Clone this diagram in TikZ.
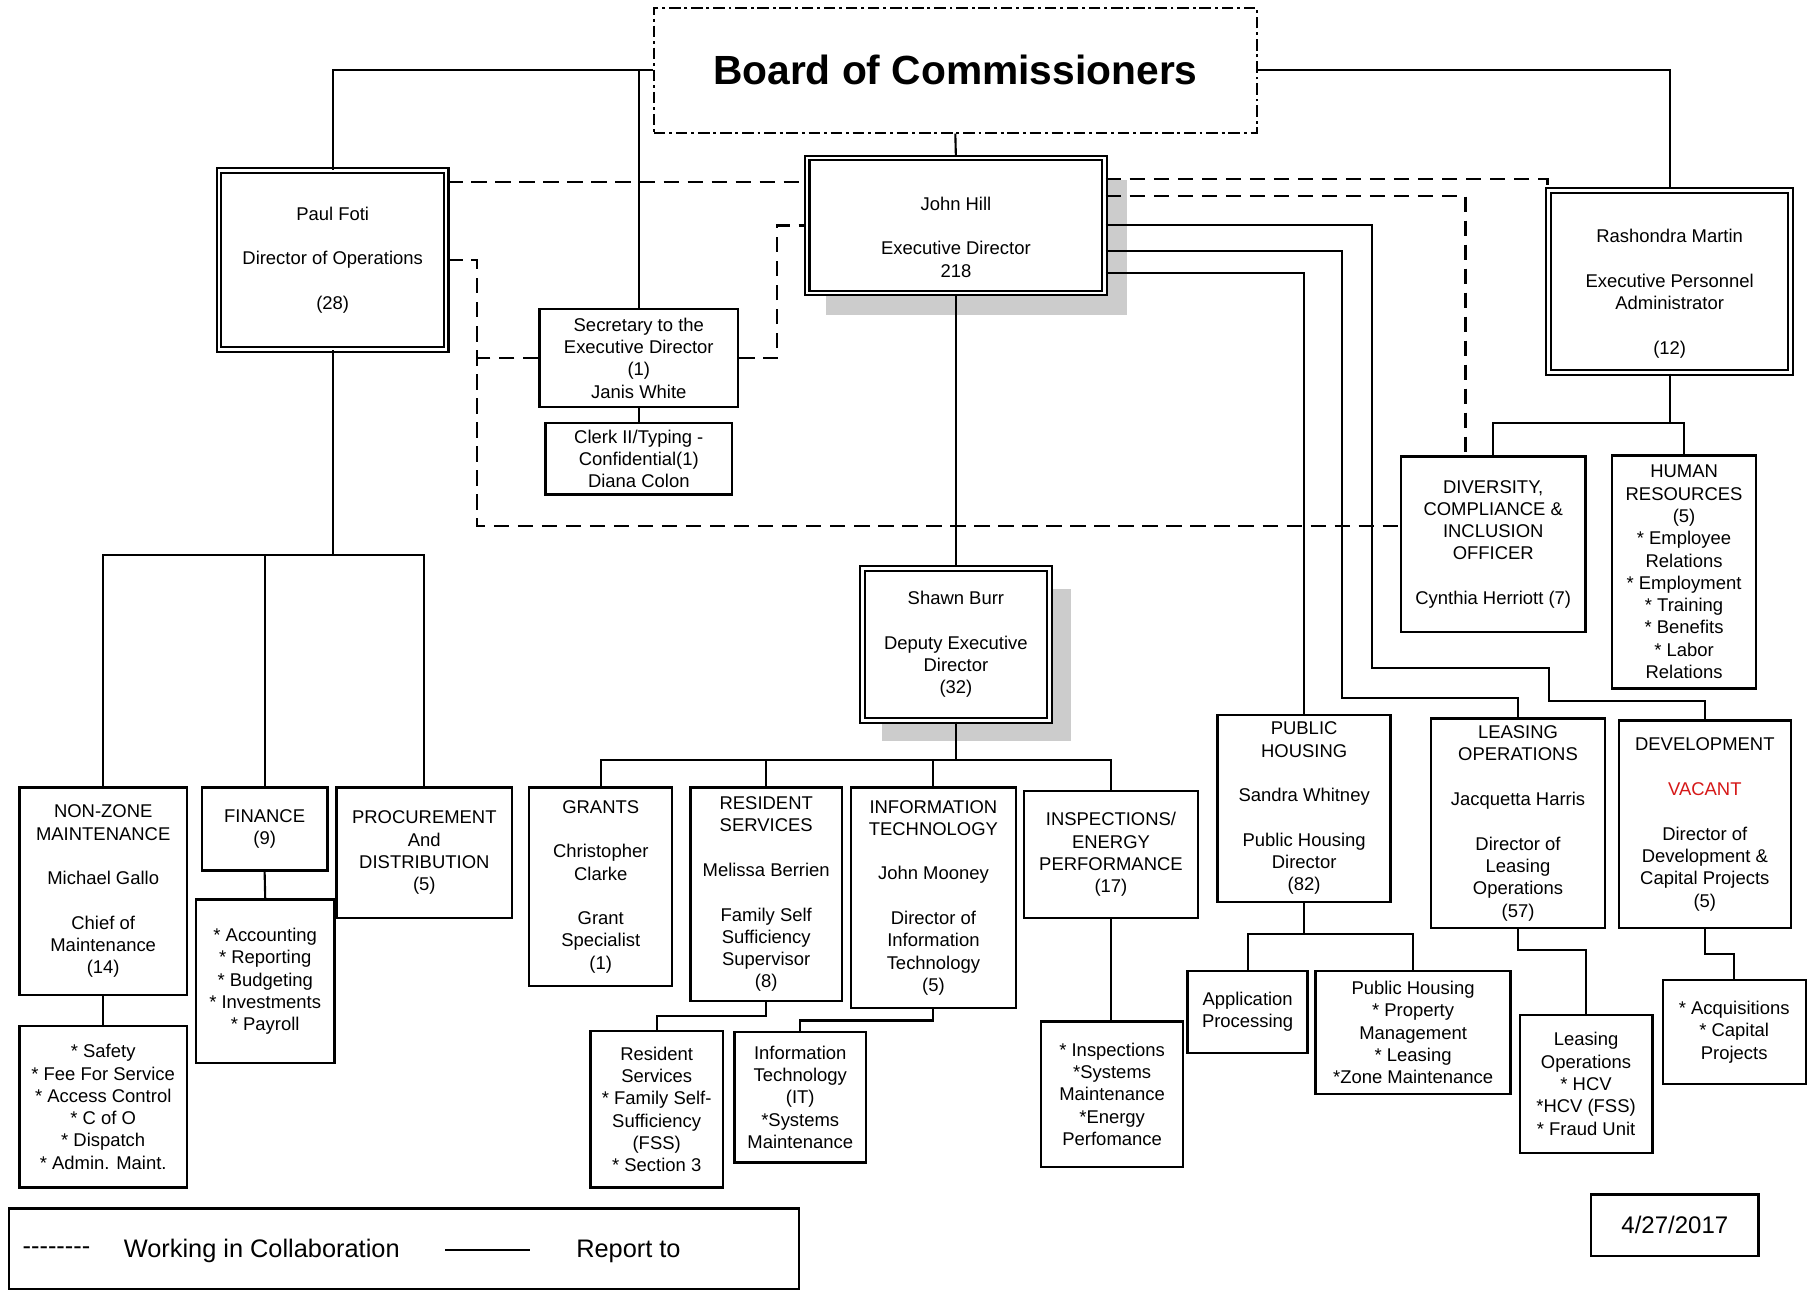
\documentclass[tikz,border=0pt]{standalone}
\usepackage{fontspec}
\setmainfont{Liberation Sans}
\definecolor{vacantred}{RGB}{214,24,24}
\newcommand{\legdash}{-\kern0pt}

\begin{document}
\begin{tikzpicture}[x=0.6pt, y=-0.6pt,
	unit/.style={draw, fill=white, line width=1.25pt, align=center, inner sep=1pt, font=\fontsize{9.6}{11.6}\selectfont},
	head/.style={unit, double, line width=1.1pt, double distance=1.3pt},
	bw/.style={minimum width=#1*0.6pt},
	bh/.style={minimum height=#1*0.6pt},
	report/.style={line width=1.1pt},
	collab/.style={line width=1.2pt, dash pattern=on 8pt off 4.5pt},
	boxshadow/.style={fill=gray!40},
	keytext/.style={font=\fontsize{13.2}{15}\selectfont}]
	\useasboundingbox (0,0) rectangle (1568,1120);
	% Board
	\node[draw, line width=1pt, dash pattern=on 6pt off 2pt on 1.5pt off 2pt, bw=523, bh=108, font=\fontsize{21.2}{24}\selectfont\bfseries] (board) at (828.5,61) {Board of Commissioners};
	% Top level
	\fill[boxshadow] (716,156) rectangle (977,273);
	\node[head, bw=258, bh=117] (jh) at (829,195.5) {\rule{0pt}{19pt}John Hill\\[11.6pt] Executive Director\\ 218};
	\node[head, bw=197, bh=155] (pf) at (288.5,225.5) {Paul Foti\\[11.6pt] Director of Operations\\[11.6pt] (28)};
	\node[head, bw=210, bh=158] (rm) at (1448,244) {\rule{0pt}{20pt}Rashondra Martin\\[11.6pt] Executive Personnel\\ Administrator\\[11.6pt] (12)};
	\node[unit, bw=172, bh=85] (sec) at (554,310.5) {Secretary to the\\ Executive Director\\ (1)\\ Janis White};
	\node[unit, bw=162, bh=62] (clerk) at (554,398) {Clerk II/Typing -\\ Confidential(1)\\ Diana Colon};
	% Personnel
	\node[unit, bw=160, bh=152] (div) at (1295,472) {DIVERSITY,\\ COMPLIANCE \&\\ INCLUSION\\ OFFICER\\[11.6pt] Cynthia Herriott (7)};
	\node[unit, bw=125, bh=202] (hr) at (1460.5,496) {HUMAN\\ RESOURCES\\ (5)\\ * Employee\\ Relations\\ * Employment\\ * Training\\ * Benefits\\ * Labor\\ Relations};
	% Operations
	\node[unit, bw=145, bh=180] (nz) at (89.5,773) {NON-ZONE\\ MAINTENANCE\\[11.6pt] Michael Gallo\\[11.6pt] Chief of\\ Maintenance\\ (14)};
	\node[unit, bw=145, bh=140] (nzsub) at (89.5,960) {* Safety\\ * Fee For Service\\ * Access Control\\ * C of O\\ * Dispatch\\ * Admin. Maint.};
	\node[unit, bw=109, bh=72] (fin) at (229.5,719) {FINANCE\\ (9)};
	\node[unit, bw=120, bh=142] (finsub) at (230,851) {* Accounting\\ * Reporting\\ * Budgeting\\ * Investments\\ * Payroll};
	\node[unit, bw=152, bh=113] (proc) at (368,739.5) {PROCUREMENT\\ And\\ DISTRIBUTION\\ (5)};
	% Deputy
	\fill[boxshadow] (765,511) rectangle (929,643);
	\node[head, bw=162, bh=132] (sb) at (829,559) {Shawn Burr\\[11.6pt] Deputy Executive\\ Director\\ (32)};
	\node[unit, bw=124, bh=172] (grants) at (521,769) {GRANTS\\[11.6pt] Christopher\\ Clarke\\[11.6pt] Grant\\ Specialist\\ (1)};
	\node[unit, bw=131, bh=185] (res) at (664.5,775.5) {RESIDENT\\ SERVICES\\[11.6pt] Melissa Berrien\\[11.6pt] Family Self\\ Sufficiency\\ Supervisor\\ (8)};
	\node[unit, bw=143, bh=191] (it) at (809.5,778.5) {INFORMATION\\ TECHNOLOGY\\[11.6pt] John Mooney\\[11.6pt] Director of\\ Information\\ Technology\\ (5)};
	\node[unit, bw=151, bh=110] (insp) at (963.5,741) {INSPECTIONS/\\ ENERGY\\ PERFORMANCE\\ (17)};
	\node[unit, bw=115, bh=136] (ressub) at (569.5,962) {Resident\\ Services\\ * Family Self-\\ Sufficiency\\ (FSS)\\ * Section 3};
	\node[unit, bw=114, bh=113] (itsub) at (694,951.5) {Information\\ Technology\\ (IT)\\ *Systems\\ Maintenance};
	\node[unit, bw=123, bh=126] (inspsub) at (964.5,949) {* Inspections\\ *Systems\\ Maintenance\\ *Energy\\ Perfomance};
	% Housing
	\node[unit, bw=150, bh=162] (ph) at (1131,701) {PUBLIC\\ HOUSING\\[11.6pt] Sandra Whitney\\[11.6pt] Public Housing\\ Director\\ (82)};
	\node[unit, bw=104, bh=71] (app) at (1082,877.5) {Application\\ Processing};
	\node[unit, bw=169, bh=107] (phsub) at (1225.5,895.5) {Public Housing\\ * Property\\ Management\\ * Leasing\\ *Zone Maintenance};
	\node[unit, bw=151, bh=182] (lease) at (1316.5,714) {LEASING\\ OPERATIONS\\[11.6pt] Jacquetta Harris\\[11.6pt] Director of\\ Leasing\\ Operations\\ (57)};
	\node[unit, bw=115, bh=120] (leasesub) at (1375.5,940) {Leasing\\ Operations\\ * HCV\\ *HCV (FSS)\\ * Fraud Unit};
	\node[unit, bw=149, bh=180] (dev) at (1478.5,715) {DEVELOPMENT\\[11.6pt] \textcolor{vacantred}{VACANT}\\[11.6pt] Director of\\ Development \&\\ Capital Projects\\ (5)};
	\node[unit, bw=124, bh=90] (devsub) at (1504,895) {* Acquisitions\\ * Capital\\ Projects};
	% Legend and date
	\node[unit, fill=none, bw=685, bh=70] (legend) at (350.5,1083) {};
	\node[keytext] (dashkey) at (49,1085) {\legdash\legdash\legdash\legdash\legdash\legdash\legdash\legdash};
	\node[keytext] (collabkey) at (227,1085) {Working in Collaboration};
	\coordinate (reporta) at (386,1084);
	\coordinate (reportb) at (460,1084);
	\node[keytext] (reportkey) at (545,1085) {Report to};
	\node[unit, bw=145, bh=53, font=\fontsize{12.5}{15}\selectfont] (date) at (1452.5,1062.5) {4/27/2017};

	% Report to
	\draw[report] (reporta) -- (reportb);
	\draw[report] (board.west) -| (pf.north);
	\draw[report] (board.west -| sec.north) -- (sec.north);
	\draw[report] (board.south) -- (jh.north);
	\draw[report] (board.east) -| (rm.north);
	\draw[report] (sec.south) -- (clerk.north);
	\draw[report] (jh.south) -- (sb.north);
	\coordinate (pfbus) at (288.5,481);
	\draw[report] (pf.south) -- (pfbus);
	\draw[report] (nz.north) |- (pfbus) -| (proc.north);
	\draw[report] (fin.north) -- (fin.north |- pfbus);
	\draw[report] (nz.south) -- (nzsub.north);
	\draw[report] (fin.south) -- (finsub.north);
	\coordinate (sbbus) at (829,659);
	\draw[report] (sb.south) -- (sbbus);
	\draw[report] (grants.north) |- (sbbus) -| (insp.north);
	\draw[report] (res.north) -- (res.north |- sbbus);
	\draw[report] (it.north) -- (it.north |- sbbus);
	\draw[report] (res.south) -- ++(0,12) -| (ressub.north);
	\draw[report] (it.south) -- ++(0,10) -| (itsub.north);
	\draw[report] (insp.south) -- (insp.south |- inspsub.north);
	\coordinate (rmbus) at (1448,367);
	\draw[report] (rm.south) -- (rmbus);
	\draw[report] (div.north) |- (rmbus) -| (hr.north);
	\draw[report] (jh.east) ++(0,41.5) -| (ph.north);
	\draw[report] (jh.east) ++(0,22.5) -| (1164,605) -| (lease.north);
	\draw[report] (jh.east) -| (1190,579) -| (1343,608) -| (dev.north);
	\coordinate (phbus) at (1131,810);
	\draw[report] (ph.south) -- (phbus);
	\draw[report] (app.north) |- (phbus) -| (phsub.north);
	\draw[report] (lease.south) -- ++(0,18) -| (leasesub.north);
	\draw[report] (dev.south) -- ++(0,21) -| (devsub.north);
	% Working in collaboration
	\draw[collab] (pf.east |- 0,158) -- (jh.west |- 0,158);
	\draw[collab] (pf.east) -- ++(26,0) |- (div.west |- 0,456);
	\draw[collab] (sec.west) -- ++(-54,0);
	\draw[collab] (sec.east) -- ++(33,0) |- (jh.west);
	\draw[collab] (jh.east |- 0,155) -- (rm.west |- 0,155) -- (rm.north west);
	\draw[collab] (jh.east |- 0,170) -| (div.north -| 1271,0);
\end{tikzpicture}
\end{document}
